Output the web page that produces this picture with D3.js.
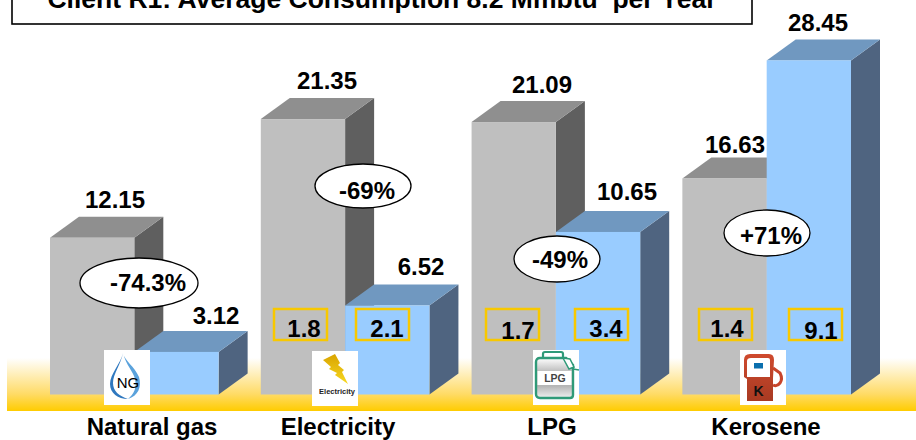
<!DOCTYPE html>
<html>
<head>
<meta charset="utf-8">
<script src="https://cdn.jsdelivr.net/npm/d3@7"></script>
<style>
  html, body { margin: 0; padding: 0; background: #fff; }
  svg { display: block; }
  text { font-family: "Liberation Sans", Arial, sans-serif; font-weight: bold; fill: #000; }
</style>
</head>
<body>
<div id="view"></div>
<script>
/* ========= DATA ========= */
const categories = ["Natural gas", "Electricity", "LPG", "Kerosene"];
const series = ["before", "after"];
const titleText = "Client R1: Average Consumption 8.2 Mmbtu  per Year";

// printed labels
const beforeLabels = ["12.15", "21.35", "21.09", "16.63"];
const afterLabels = ["3.12", "6.52", "10.65", "28.45"];
const changeLabels = ["-74.3%", "-69%", "-49%", "+71%"];
const beforeBoxLabels = [null, "1.8", "1.7", "1.4"];
const afterBoxLabels = [null, "2.1", "3.4", "9.1"];

// the columns in the picture are not quite to scale with their labels, so heights are read separately
const beforeHeights = [12.15, 21.35, 21.12, 16.75];
const afterHeights = [3.3, 6.9, 12.6, 25.9];

/* ========= LAYOUT ========= */
const W = 916, H = 440;
const BASE = 394.5;
const DX = 29, DY = 21;           // depth of the 3D columns
const COLORS = {
  before: { front: "#bfbfbf", top: "#8f8f8f", side: "#5f5f5f" },
  after:  { front: "#99ccff", top: "#7098c0", side: "#4f6480" }
};
const GOLD = "#f8c800";

// annotation placement per category
const labelPos = {
  before: [[115, 208], [327, 89], [542, 93], [735, 153]],
  after:  [[216, 324], [421, 275], [627, 200], [818, 31]]
};
const ovals = [
  { cx: 139, cy: 283, rx: 59, ry: 25, tx: 148, ty: 291 },
  { cx: 363, cy: 186, rx: 48, ry: 22, tx: 367, ty: 199 },
  { cx: 557, cy: 259, rx: 43, ry: 23, tx: 560, ty: 268 },
  { cx: 767, cy: 233, rx: 43, ry: 23, tx: 771, ty: 244 }
];
const beforeBoxes = [null, { x: 274, tx: 304, ty: 337 }, { x: 486, tx: 518, ty: 339 }, { x: 699, tx: 727, ty: 337 }];
const afterBoxes = [null, { x: 356, tx: 387, ty: 337 }, { x: 575, tx: 606, ty: 337 }, { x: 789, tx: 821, ty: 339 }];
const catLabelX = [152, 338, 552, 766];
const iconX = [104, 312, 533, 740];

/* ========= SCALES ========= */
const x0 = d3.scaleBand().domain(categories).range([50, 851]).paddingInner(0.2);
const x1 = d3.scaleBand().domain(series).range([0, x0.bandwidth()]);
const y = d3.scaleLinear().domain([0, 30]).range([BASE, BASE - 387]);

const svg = d3.select("#view").append("svg").attr("width", W).attr("height", H);

/* ========= FLOOR ========= */
const defs = svg.append("defs");
const vGrad = (id, stops) => {
  const g = defs.append("linearGradient").attr("id", id).attr("x1", 0).attr("x2", 0).attr("y1", 0).attr("y2", 1);
  stops.forEach(([o, c]) => g.append("stop").attr("offset", o).attr("stop-color", c));
};
vGrad("floor", [["0%", "#ffffff"], ["68%", "#ffdb66"], ["100%", "#ffcc00"]]);
vGrad("can", [["0%", "#ffffff"], ["38%", "#b5b5b5"], ["70%", "#b5b5b5"], ["100%", "#f0f0f0"]]);
vGrad("bolt", [["0%", "#d9a400"], ["100%", "#f7d820"]]);
vGrad("pump", [["0%", "#cf4a2e"], ["100%", "#a83a22"]]);

svg.append("rect").attr("x", 7).attr("y", 358).attr("width", W - 7).attr("height", 53).attr("fill", "url(#floor)");

/* ========= COLUMNS ========= */
function drawColumn(g, x, w, h, c) {
  const top = y(h);
  g.append("path").attr("fill", c.side)
    .attr("d", `M${x + w},${top}L${x + w + DX},${top - DY}L${x + w + DX},${BASE - DY}L${x + w},${BASE}Z`);
  g.append("path").attr("fill", c.top)
    .attr("d", `M${x},${top}L${x + DX},${top - DY}L${x + w + DX},${top - DY}L${x + w},${top}Z`);
  g.append("rect").attr("fill", c.front)
    .attr("x", x).attr("y", top).attr("width", w).attr("height", BASE - top);
}

categories.forEach((cat, i) => {
  const g = svg.append("g").attr("class", "cat");
  drawColumn(g, x0(cat) + x1("before"), x1.bandwidth(), beforeHeights[i], COLORS.before);
  drawColumn(g, x0(cat) + x1("after"), x1.bandwidth(), afterHeights[i], COLORS.after);
});

/* ========= TEXT ========= */
const label = (x, yy, t, size = 24) => svg.append("text")
  .attr("x", x).attr("y", yy).attr("text-anchor", "middle").style("font-size", size + "px").text(t);

beforeLabels.forEach((t, i) => label(labelPos.before[i][0], labelPos.before[i][1], t));
afterLabels.forEach((t, i) => label(labelPos.after[i][0], labelPos.after[i][1], t));
categories.forEach((t, i) => label(catLabelX[i], 435, t));

// ovals with percentage change
ovals.forEach((o, i) => {
  svg.append("ellipse").attr("cx", o.cx).attr("cy", o.cy).attr("rx", o.rx).attr("ry", o.ry)
    .attr("fill", "#fff").attr("stroke", "#000").attr("stroke-width", 1.3);
  label(o.tx, o.ty, changeLabels[i]);
});

// yellow boxes
function drawBoxes(boxes, labels) {
  boxes.forEach((b, i) => {
    if (!b) return;
    svg.append("rect").attr("x", b.x).attr("y", 309).attr("width", 53).attr("height", 31)
      .attr("fill", "none").attr("stroke", GOLD).attr("stroke-width", 2.5);
    label(b.tx, b.ty, labels[i]);
  });
}
drawBoxes(beforeBoxes, beforeBoxLabels);
drawBoxes(afterBoxes, afterBoxLabels);

/* ========= ICONS ========= */
const icon = i => {
  const g = svg.append("g").attr("transform", `translate(${iconX[i]},350)`);
  g.append("rect").attr("width", 46).attr("height", 55).attr("fill", "#fff");
  return g;
};

// NG flame
const ng = icon(0);
ng.append("path").attr("fill", "#5aa2dc")
  .attr("d", "M19,3C20,10 31,17 35,27C38,37 34,46 24,49C30,44 33,38 31,29C29,21 22,15 19,3Z");
ng.append("path").attr("fill", "#2f78bf")
  .attr("d", "M19,3C17,13 6,24 6,34C6,43 14,49 24,49C15,46 9,41 9,33C9,24 17,14 19,3Z");
ng.append("text").attr("x", 24).attr("y", 38).attr("text-anchor", "middle")
  .style("font-size", "15px").style("font-weight", "normal").text("NG");

// Electricity bolt
const el = icon(1);
el.attr("transform", `translate(${iconX[1]},351)`);
el.append("path").attr("fill", "url(#bolt)")
  .attr("d", "M11,9L23,3L28,12L26,14L32,19L30,21L36,33L23,24L25,22L17,18L19,16Z");
el.append("text").attr("x", 25).attr("y", 43).attr("text-anchor", "middle")
  .style("font-size", "7.5px").style("fill", "#222").text("Electricity");

// LPG can
const lp = icon(2);
lp.append("path").attr("fill", "none").attr("stroke", "#2f9a78").attr("stroke-width", 2.2)
  .attr("d", "M10,8L10,4Q10,2 12,2L28,2Q30,2 30,4L30,8");
lp.append("path").attr("fill", "url(#can)").attr("stroke", "#2f9a78").attr("stroke-width", 2.4)
  .attr("d", "M7,8L33,8L40,15L40,45Q40,48 37,48L7,48Q3,48 3,44L3,12Q3,8 7,8Z");
lp.append("path").attr("fill", "#fff").attr("stroke", "#2f9a78").attr("stroke-width", 1.5)
  .attr("d", "M30,8L37,9L41,17L36,19Z");
lp.append("path").attr("fill", "none").attr("stroke", "#2f9a78").attr("stroke-width", 1.5)
  .attr("d", "M40,19L46,20");
lp.append("rect").attr("x", 4.5).attr("y", 21).attr("width", 34).attr("height", 14).attr("fill", "#fff");
lp.append("text").attr("x", 22).attr("y", 32).attr("text-anchor", "middle")
  .style("font-size", "10.5px").style("fill", "#444").text("LPG");

// Kerosene pump
const ke = icon(3);
ke.append("path").attr("fill", "none").attr("stroke", "#c8442a").attr("stroke-width", 3)
  .attr("d", "M33,18L40,23Q43,29 40,33Q37,37 33,35");
ke.append("path").attr("fill", "url(#pump)")
  .attr("d", "M10,4L29,4Q34,4 34,10L33,28L33,51L7,51L7,29L4,27L4,10Q4,4 10,4Z");
ke.append("path").attr("fill", "#fff").attr("d", "M11,8L28,8Q30,8 30,10L30,27L7,27L7,11Q7,8 11,8Z");
ke.append("rect").attr("x", 14).attr("y", 13).attr("width", 9).attr("height", 5.5).attr("fill", "#0b6fae");
ke.append("text").attr("x", 18.5).attr("y", 46).attr("text-anchor", "middle")
  .style("font-size", "14px").style("fill", "#111").text("K");

/* ========= TITLE ========= */
svg.append("rect").attr("x", 12).attr("y", -20).attr("width", 740).attr("height", 44)
  .attr("fill", "#fff").attr("stroke", "#000").attr("stroke-width", 1.6);
svg.append("text").attr("x", 382).attr("y", 8).attr("text-anchor", "middle")
  .attr("xml:space", "preserve").style("white-space", "pre")
  .style("font-size", "26.5px").text(titleText);
</script>
</body>
</html>
